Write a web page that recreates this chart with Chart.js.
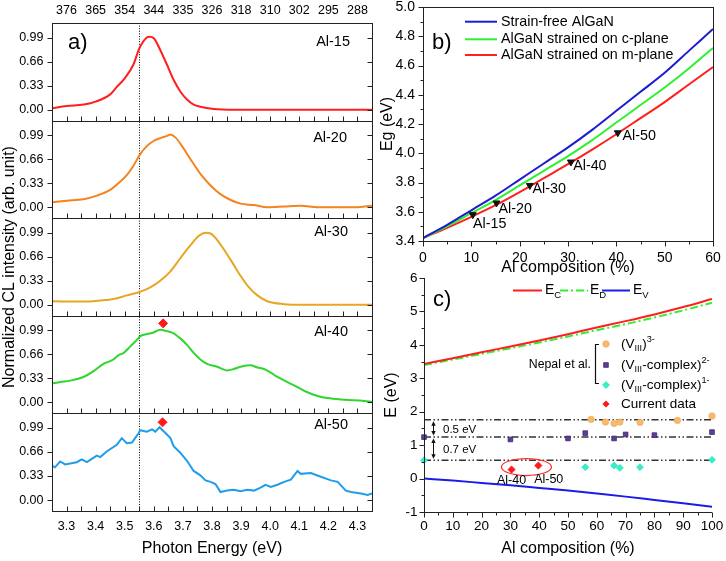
<!DOCTYPE html>
<html><head><meta charset="utf-8">
<script src="https://cdn.jsdelivr.net/npm/chart.js"></script>
<style>
html,body{margin:0;padding:0;background:#fff;width:726px;height:561px;overflow:hidden}
canvas{position:absolute}
#ca{left:0;top:0}
#cb{left:370px;top:0}
#cc{left:370px;top:270px}
</style></head><body>
<canvas id="ca" width="380" height="561"></canvas>
<canvas id="cb" width="356" height="280"></canvas>
<canvas id="cc" width="356" height="291"></canvas>
<script>
const FONT = '"Liberation Sans", Arial, Helvetica, sans-serif';
Chart.defaults.font.family = FONT;
Chart.defaults.color = '#000';

// ---------------- Panel a data ----------------
const energyTicks = [3.3,3.4,3.5,3.6,3.7,3.8,3.9,4.0,4.1,4.2,4.3];
const energyTickLabels = ['3.3','3.4','3.5','3.6','3.7','3.8','3.9','4.0','4.1','4.2','4.3'];
const energyMinorTicks = [3.3,3.35,3.4,3.45,3.5,3.55,3.6,3.65,3.7,3.75,3.8,3.85,3.9,3.95,4.0,4.05,4.1,4.15,4.2,4.25,4.3];
const wavelengthTickLabels = ['376','365','354','344','335','326','318','310','302','295','288'];
const intensityTicks = [0, 0.33, 0.66, 0.99];
const intensityTickLabels = ['0.00','0.33','0.66','0.99'];
const sampleNames = ['Al-15','Al-20','Al-30','Al-40','Al-50'];

const al15E = [3.25,3.30,3.36,3.40,3.45,3.47,3.50,3.53,3.55,3.576,3.585,3.60,3.622,3.645,3.668,3.691,3.714,3.737,3.76,3.806,3.875,4.0,4.2,4.35];
const al15I = [0.02,0.05,0.07,0.11,0.21,0.30,0.43,0.62,0.84,0.99,1.0,0.98,0.82,0.62,0.41,0.25,0.14,0.07,0.04,0.01,0.0,0.0,0.0,0.0];

const al20E = [3.25,3.30,3.358,3.404,3.45,3.484,3.507,3.53,3.553,3.576,3.599,3.622,3.645,3.657,3.674,3.697,3.726,3.76,3.795,3.829,3.864,3.898,3.944,3.99,4.048,4.105,4.163,4.22,4.278,4.35];
const al20I = [0.07,0.09,0.11,0.16,0.24,0.35,0.44,0.57,0.73,0.84,0.91,0.95,0.98,1.0,0.96,0.84,0.66,0.46,0.30,0.18,0.10,0.05,0.03,0.0,0.01,0.02,0.0,0.0,0.0,0.02];

const al30E = [3.25,3.358,3.416,3.461,3.507,3.553,3.588,3.622,3.657,3.691,3.726,3.755,3.778,3.795,3.818,3.841,3.87,3.898,3.927,3.956,3.99,4.048,4.105,4.22,4.35];
const al30I = [0.05,0.045,0.06,0.08,0.13,0.18,0.24,0.33,0.46,0.64,0.82,0.95,0.99,0.98,0.89,0.76,0.58,0.40,0.24,0.13,0.05,0.01,0.0,0.0,0.0];

const al40E = [3.25,3.278,3.312,3.358,3.393,3.427,3.461,3.479,3.496,3.519,3.542,3.553,3.576,3.599,3.622,3.645,3.668,3.691,3.714,3.737,3.76,3.783,3.818,3.852,3.875,3.898,3.933,3.956,3.979,4.002,4.025,4.059,4.094,4.128,4.163,4.197,4.243,4.289,4.324,4.35];
const al40I = [0.26,0.28,0.30,0.35,0.43,0.53,0.59,0.65,0.68,0.77,0.86,0.91,0.94,0.96,1.0,0.98,0.95,0.88,0.79,0.68,0.59,0.53,0.49,0.44,0.46,0.49,0.51,0.48,0.46,0.41,0.35,0.28,0.21,0.14,0.09,0.06,0.04,0.03,0.02,0.01];

const al50E = [3.251,3.26,3.278,3.295,3.335,3.352,3.37,3.404,3.416,3.439,3.473,3.49,3.507,3.525,3.548,3.553,3.576,3.594,3.605,3.62,3.64,3.657,3.668,3.691,3.714,3.737,3.76,3.778,3.795,3.812,3.829,3.852,3.875,3.898,3.921,3.944,3.967,3.984,4.002,4.025,4.048,4.071,4.094,4.105,4.14,4.174,4.209,4.232,4.26,4.278,4.312,4.335,4.35];
const al50I = [0.47,0.45,0.53,0.49,0.52,0.56,0.52,0.61,0.59,0.67,0.76,0.85,0.78,0.79,0.92,0.96,0.94,0.97,0.94,1.0,0.92,0.85,0.74,0.65,0.54,0.40,0.34,0.27,0.25,0.22,0.11,0.13,0.14,0.12,0.14,0.13,0.17,0.21,0.18,0.21,0.25,0.28,0.40,0.36,0.37,0.32,0.27,0.25,0.13,0.11,0.09,0.07,0.09];

const peakMarkE = [3.632, 3.630];   // Al-40, Al-50
const peakMarkI = [1.086, 1.068];
const referenceEnergy = 3.55;

// ---------------- Panel b data ----------------
const compB = [0,5,10,15,20,25,30,35,40,45,50,55,60];
const egStrainFree = [3.42,3.51,3.61,3.71,3.82,3.93,4.04,4.16,4.29,4.42,4.55,4.70,4.85];
const egCPlane = [3.42,3.50,3.59,3.68,3.78,3.88,3.98,4.09,4.21,4.33,4.45,4.58,4.72];
const egMPlane = [3.42,3.49,3.565,3.645,3.735,3.83,3.925,4.025,4.13,4.24,4.35,4.47,4.59];
const sampleComp = [10.3,15.2,22.1,30.6,40.3];
const sampleEg = [3.58,3.66,3.78,3.94,4.14];
const compTicksB = [0,10,20,30,40,50,60];
const compMinorB = [5,15,25,35,45,55];
const egTicks = [3.4,3.6,3.8,4.0,4.2,4.4,4.6,4.8,5.0];
const egTickLabels = ['3.4','3.6','3.8','4.0','4.2','4.4','4.6','4.8','5.0'];
const egMinorTicks = [3.5,3.7,3.9,4.1,4.3,4.5,4.7,4.9];
const legendB = ['Strain-free AlGaN','AlGaN strained on c-plane','AlGaN strained on m-plane'];

// ---------------- Panel c data ----------------
const compC = [0,10,20,30,40,50,60,70,80,90,100];
const eC = [3.43,3.60,3.78,3.95,4.13,4.32,4.52,4.71,4.91,5.13,5.37];
const eD = [3.40,3.56,3.73,3.90,4.07,4.25,4.44,4.62,4.82,5.03,5.26];
const eV = [0.0,-0.06,-0.13,-0.20,-0.28,-0.36,-0.45,-0.54,-0.64,-0.74,-0.84];
const v3Comp = [58,63,66,68,75,88,100];
const v3E = [1.77,1.69,1.65,1.69,1.68,1.74,1.87];
const v2Comp = [0,30,50,56,66,70,80,100];
const v2E = [1.24,1.17,1.20,1.36,1.20,1.32,1.30,1.39];
const v1Comp = [0,56,66,68,75,100];
const v1E = [0.55,0.34,0.39,0.32,0.34,0.56];
const curComp = [30.4,39.7];
const curE = [0.27,0.39];
const curLabels = ['Al-40','Al-50'];
const levelE = [1.76,1.24,0.55];
const levelComp = [0,100];
const gapLabels = ['0.5 eV','0.7 eV'];
const compTicksC = [0,10,20,30,40,50,60,70,80,90,100];
const compMinorC = [5,15,25,35,45,55,65,75,85,95];
const eTicksC = [-1,0,1,2,3,4,5,6];
const eMinorC = [-0.5,0.5,1.5,2.5,3.5,4.5,5.5];

// ---------------- helpers ----------------
const pts = (xs, ys) => xs.map((x, i) => ({x, y: ys[i]}));
const pxv = (s, v) => Math.round(s.getPixelForValue(v)) + 0.5;
function seg(ctx, x1, y1, x2, y2) { ctx.beginPath(); ctx.moveTo(x1, y1); ctx.lineTo(x2, y2); ctx.stroke(); }
function richText(ctx, x, y, parts, base) {
  let cx = x;
  ctx.textAlign = 'left'; ctx.textBaseline = 'middle';
  for (const p of parts) {
    const size = p.s ? base * 0.68 : base;
    ctx.font = size + 'px ' + FONT;
    const dy = p.s === -1 ? base * 0.32 : (p.s === 1 ? -base * 0.36 : 0);
    ctx.fillText(p.t, cx, y + dy);
    cx += ctx.measureText(p.t).width;
  }
}
function marker(ctx, style, x, y, r, fill, stroke) {
  ctx.beginPath();
  if (style === 'circle') ctx.arc(x, y, r, 0, Math.PI * 2);
  else if (style === 'rect') { const s = r * Math.SQRT1_2; ctx.rect(x - s, y - s, 2 * s, 2 * s); }
  else { ctx.moveTo(x, y - r); ctx.lineTo(x + r, y); ctx.lineTo(x, y + r); ctx.lineTo(x - r, y); ctx.closePath(); }
  ctx.fillStyle = fill; ctx.fill();
  if (stroke) { ctx.strokeStyle = stroke; ctx.lineWidth = 0.8; ctx.stroke(); }
}
function fixedTicks(arr) { return s => { s.ticks = arr.map(v => ({value: v})); }; }
function fitW(w) { return s => { s.width = w; s.paddingTop = 0; s.paddingBottom = 0; s.paddingLeft = 0; s.paddingRight = 0; }; }
function fitH(h) { return s => { s.height = h; s.paddingTop = 0; s.paddingBottom = 0; s.paddingLeft = 0; s.paddingRight = 0; }; }
const noGrid = {display: false, drawTicks: false};
const noBorder = {display: false};
const baseOpts = {responsive: false, animation: false, devicePixelRatio: 1, events: [],
  plugins: {legend: {display: false}, tooltip: {enabled: false}}};

// ---------------- Panel a chart ----------------
const aColors = ['#ff1f1f', '#f5831f', '#e7a622', '#2fd62f', '#1f9de9'];
const aE = [al15E, al20E, al30E, al40E, al50E];
const aI = [al15I, al20I, al30I, al40I, al50I];
const yIds = ['y1','y2','y3','y4','y5'];
const aLabelYOffset = [18.7, 16.9, 13.5, 15.9, 11.6];
const aLabelRight = [350, 347, 348, 348, 348];

const aDatasets = sampleNames.map((n, k) => ({
  label: n, data: pts(aE[k], aI[k]), xAxisID: 'x', yAxisID: yIds[k],
  borderColor: aColors[k], backgroundColor: aColors[k], borderWidth: 2, pointRadius: 0,
  cubicInterpolationMode: k === 4 ? 'default' : 'monotone', tension: 0, order: 1
}));
[3, 4].forEach((k, j) => aDatasets.push({
  label: sampleNames[k] + ' peak', data: [{x: peakMarkE[j], y: peakMarkI[j]}], xAxisID: 'x', yAxisID: yIds[k],
  showLine: false, pointStyle: 'rectRot', pointRadius: 4.5, pointBackgroundColor: '#ff1a1a',
  pointBorderColor: '#ff1a1a', order: 0, clip: false
}));

const aScales = {
  x: {type: 'linear', position: 'bottom', min: 3.25, max: 4.35, afterBuildTicks: fixedTicks(energyTicks),
    ticks: {callback: (v, i) => energyTickLabels[i], font: {size: 12.5}, padding: 8, autoSkip: false, maxRotation: 0},
    grid: noGrid, border: noBorder,
    title: {display: true, text: 'Photon Energy (eV)', font: {size: 16}, padding: {top: 0, bottom: 3}},
    afterFit: fitH(50)},
  xTop: {type: 'linear', position: 'top', min: 3.25, max: 4.35, afterBuildTicks: fixedTicks(energyTicks),
    ticks: {callback: (v, i) => wavelengthTickLabels[i], font: {size: 12.5}, padding: 4.5, autoSkip: false, maxRotation: 0},
    grid: noGrid, border: noBorder, afterFit: fitH(23)}
};
yIds.forEach((id, k) => {
  aScales[id] = {type: 'linear', position: 'left', stack: 'a', stackWeight: 1, weight: 5 - k,
    min: -0.15, max: 1.19, afterBuildTicks: fixedTicks(intensityTicks),
    ticks: {callback: (v, i) => intensityTickLabels[i], font: {size: 12.5}, padding: 8.5, autoSkip: false},
    grid: noGrid, border: noBorder,
    title: k === 2 ? {display: true, text: 'Normalized CL intensity (arb. unit)', font: {size: 16}, padding: {top: 0, bottom: 0}} : {display: false},
    afterFit: fitW(52)};
});

const panelAPlugin = {
  id: 'panelA',
  beforeDatasetsDraw(chart) {
    const {ctx, chartArea: ca, scales} = chart;
    ctx.save();
    ctx.strokeStyle = '#000'; ctx.lineWidth = 1; ctx.setLineDash([1, 1.6]);
    const x = pxv(scales.x, referenceEnergy);
    seg(ctx, x, ca.top, x, ca.bottom);
    ctx.restore();
  },
  afterDraw(chart) {
    const {ctx, chartArea: ca, scales} = chart;
    const xs = scales.x;
    ctx.save();
    ctx.strokeStyle = '#222'; ctx.lineWidth = 1;
    const L = Math.round(ca.left) + 0.5, R = Math.round(ca.right) + 0.5;
    yIds.forEach((id, k) => {
      const s = scales[id];
      const T = Math.round(s.top) + 0.5, B = Math.round(s.bottom) + 0.5;
      ctx.strokeRect(L, T, R - L, B - T);
      intensityTicks.forEach(v => { const y = pxv(s, v); seg(ctx, L - 5, y, L, y); seg(ctx, R - 5, y, R, y); });
      energyMinorTicks.forEach(v => { const x = pxv(xs, v); seg(ctx, x, B, x, B - 5); });
      ctx.fillStyle = '#000'; ctx.font = '14.5px ' + FONT; ctx.textAlign = 'right'; ctx.textBaseline = 'middle';
      ctx.fillText(sampleNames[k], aLabelRight[k], s.top + aLabelYOffset[k]);
    });
    ctx.font = '22px ' + FONT; ctx.textAlign = 'left'; ctx.textBaseline = 'middle';
    ctx.fillText('a)', 68, 43);
    ctx.restore();
  }
};

new Chart(document.getElementById('ca'), {
  type: 'line', data: {datasets: aDatasets},
  options: Object.assign({}, baseOpts, {layout: {padding: {left: 0, right: 8, top: 0, bottom: 0}}, scales: aScales}),
  plugins: [panelAPlugin]
});

// ---------------- Panel b chart ----------------
const bColors = ['#1c1cd0', '#2ef02e', '#ff1f1f'];
const bSeries = [egStrainFree, egCPlane, egMPlane];
const bDatasets = bSeries.map((s, k) => ({
  label: legendB[k], data: pts(compB, s), borderColor: bColors[k], borderWidth: 2, pointRadius: 0,
  cubicInterpolationMode: 'monotone', order: 1
}));
bDatasets.push({label: 'samples', data: pts(sampleComp, sampleEg), showLine: false, pointStyle: 'triangle',
  rotation: 180, pointRadius: 4, pointBackgroundColor: '#111', pointBorderColor: '#111', order: 0});
const bLabelDx = [0.2, 2, 2.7, 2.3, 4.7];
const bLabelDy = [9.3, 6.3, 4, 3.7, 3.3];

const panelBPlugin = {
  id: 'panelB',
  afterDraw(chart) {
    const {ctx, chartArea: ca, scales: {x: xs, y: ys}} = chart;
    ctx.save();
    ctx.strokeStyle = '#222'; ctx.lineWidth = 1;
    const L = Math.round(ca.left) + 0.5, R = Math.round(ca.right) + 0.5, T = Math.round(ca.top) + 0.5, B = Math.round(ca.bottom) + 0.5;
    ctx.strokeRect(L, T, R - L, B - T);
    egTicks.forEach(v => { const y = pxv(ys, v); seg(ctx, L - 5, y, L, y); });
    egMinorTicks.forEach(v => { const y = pxv(ys, v); seg(ctx, L - 3, y, L, y); });
    compTicksB.forEach(v => { const x = pxv(xs, v); seg(ctx, x, B, x, B + 5); });
    compMinorB.forEach(v => { const x = pxv(xs, v); seg(ctx, x, B, x, B + 3); });
    // legend
    const rows = [21.7, 39.3, 55];
    ctx.lineWidth = 2;
    rows.forEach((y, k) => {
      ctx.strokeStyle = bColors[k]; seg(ctx, 95, y, 127, y);
      ctx.fillStyle = '#000'; ctx.font = '14.3px ' + FONT; ctx.textAlign = 'left'; ctx.textBaseline = 'middle';
      ctx.fillText(legendB[k], 131, y);
    });
    // sample labels
    ctx.font = '14.3px ' + FONT; ctx.fillStyle = '#000';
    sampleComp.forEach((c, k) => {
      const x = xs.getPixelForValue(c) + bLabelDx[k], y = ys.getPixelForValue(sampleEg[k]) + bLabelDy[k];
      ctx.fillText(sampleNames[k], x, y);
    });
    ctx.font = '22px ' + FONT;
    ctx.fillText('b)', 62, 43);
    ctx.restore();
  }
};

new Chart(document.getElementById('cb'), {
  type: 'line', data: {datasets: bDatasets},
  options: Object.assign({}, baseOpts, {
    layout: {padding: {left: 0, right: 13, top: 7, bottom: 0}},
    scales: {
      x: {type: 'linear', min: 0, max: 60, afterBuildTicks: fixedTicks(compTicksB),
        ticks: {callback: v => String(v), font: {size: 14}, padding: 8.5, autoSkip: false, maxRotation: 0},
        grid: noGrid, border: noBorder,
        title: {display: true, text: 'Al composition (%)', font: {size: 16}, padding: {top: 0, bottom: 3}},
        afterFit: fitH(39)},
      y: {type: 'linear', min: 3.4, max: 5.0, afterBuildTicks: fixedTicks(egTicks),
        ticks: {callback: (v, i) => egTickLabels[i], font: {size: 14}, padding: 8, autoSkip: false},
        grid: noGrid, border: noBorder,
        title: {display: true, text: 'Eg (eV)', font: {size: 16}, padding: {top: 8.4, bottom: 0}},
        afterFit: fitW(53)}
    }
  }),
  plugins: [panelBPlugin]
});

// ---------------- Panel c chart ----------------
const cDatasets = [];
levelE.forEach(e => cDatasets.push({label: 'level', data: pts(levelComp, [e, e]), borderColor: '#333', borderWidth: 1.5,
  borderDash: [7, 2.5, 1.5, 2.5, 1.5, 2.5], pointRadius: 0, order: 3}));
cDatasets.push({label: 'EC', data: pts(compC, eC), borderColor: '#ff1f1f', borderWidth: 2, pointRadius: 0, cubicInterpolationMode: 'monotone', order: 2});
cDatasets.push({label: 'ED', data: pts(compC, eD), borderColor: '#2ef02e', borderWidth: 2, borderDash: [8, 3, 2, 3], pointRadius: 0, cubicInterpolationMode: 'monotone', order: 2});
cDatasets.push({label: 'EV', data: pts(compC, eV), borderColor: '#1c1ce8', borderWidth: 2, pointRadius: 0, cubicInterpolationMode: 'monotone', order: 2});
const cPoint = (label, xs, ys, style, r, fill, stroke) => ({label, data: pts(xs, ys), showLine: false, pointStyle: style,
  pointRadius: r, pointBackgroundColor: fill, pointBorderColor: stroke, pointBorderWidth: 0.8, clip: false, order: 0});
cDatasets.push(cPoint('V3', v3Comp, v3E, 'circle', 3.2, '#f7b96c', '#f2ae5c'));
cDatasets.push(cPoint('V2', v2Comp, v2E, 'rect', 3.3, '#5d3e96', '#3d2a70'));
cDatasets.push(cPoint('V1', v1Comp, v1E, 'rectRot', 3.4, '#33f2c6', '#25e0b6'));
cDatasets.push(cPoint('cur', curComp, curE, 'rectRot', 3.6, '#ff1a1a', '#ff1a1a'));
const cLabelDx = [0, 10.4];
const cLabelDy = [10.6, 14.5];

const panelCPlugin = {
  id: 'panelC',
  afterDraw(chart) {
    const {ctx, chartArea: ca, scales: {x: xs, y: ys}} = chart;
    ctx.save();
    ctx.strokeStyle = '#222'; ctx.lineWidth = 1;
    const L = Math.round(ca.left) + 0.5, B = Math.round(ca.bottom) + 0.5;
    seg(ctx, L, ca.top, L, B); seg(ctx, L, B, ca.right, B);
    eTicksC.forEach(v => { const y = pxv(ys, v); seg(ctx, L - 5, y, L, y); });
    eMinorC.forEach(v => { const y = pxv(ys, v); seg(ctx, L - 3, y, L, y); });
    compTicksC.forEach(v => { const x = pxv(xs, v); seg(ctx, x, B, x, B + 5); });
    compMinorC.forEach(v => { const x = pxv(xs, v); seg(ctx, x, B, x, B + 3); });
    ctx.fillStyle = '#000'; ctx.textBaseline = 'middle'; ctx.textAlign = 'left';
    ctx.font = '22px ' + FONT; ctx.fillText('c)', 63, 30);
    // top legend
    const yl = 20.5;
    ctx.lineWidth = 2;
    ctx.strokeStyle = '#ff1f1f'; seg(ctx, 143, yl, 172, yl);
    ctx.strokeStyle = '#2ef02e'; ctx.setLineDash([8, 3, 2, 3]); seg(ctx, 190, yl, 218, yl); ctx.setLineDash([]);
    ctx.strokeStyle = '#1c1ce8'; seg(ctx, 232, yl, 260, yl);
    ctx.fillStyle = '#000';
    richText(ctx, 175, yl, [{t: 'E'}, {t: 'C', s: -1}], 14);
    richText(ctx, 220, yl, [{t: 'E'}, {t: 'D', s: -1}], 14);
    richText(ctx, 263, yl, [{t: 'E'}, {t: 'V', s: -1}], 14);
    // Nepal legend
    ctx.font = '12.3px ' + FONT; ctx.textAlign = 'right'; ctx.fillText('Nepal et al.', 221, 95);
    ctx.strokeStyle = '#111'; ctx.lineWidth = 1.2;
    ctx.beginPath(); ctx.moveTo(229, 74.5); ctx.lineTo(225.5, 74.5); ctx.lineTo(225.5, 113.5); ctx.lineTo(229, 113.5); ctx.stroke();
    marker(ctx, 'circle', 236, 74, 3.2, '#f7b96c', '#f2ae5c');
    marker(ctx, 'rect', 236, 95, 3.3, '#5d3e96', '#3d2a70');
    marker(ctx, 'rectRot', 236, 115, 3.4, '#33f2c6', '#25e0b6');
    marker(ctx, 'rectRot', 236, 134, 3.6, '#ff1a1a', null);
    ctx.fillStyle = '#000';
    richText(ctx, 251, 74, [{t: '(V'}, {t: 'III', s: -1}, {t: ')'}, {t: '3-', s: 1}], 13.5);
    richText(ctx, 251, 95, [{t: '(V'}, {t: 'III', s: -1}, {t: '-complex)'}, {t: '2-', s: 1}], 13.5);
    richText(ctx, 251, 115, [{t: '(V'}, {t: 'III', s: -1}, {t: '-complex)'}, {t: '1-', s: 1}], 13.5);
    richText(ctx, 251, 134, [{t: 'Current data'}], 13.5);
    // arrows between levels
    const ax = Math.round(ca.left + 9) + 0.5;
    const ly = levelE.map(e => ys.getPixelForValue(e));
    ctx.strokeStyle = '#111'; ctx.fillStyle = '#111'; ctx.lineWidth = 1;
    for (let k = 0; k < 2; k++) {
      const y1 = ly[k] + 1.5, y2 = ly[k + 1] - 1.5;
      seg(ctx, ax, y1 + 2, ax, y2 - 2);
      ctx.beginPath(); ctx.moveTo(ax, y1); ctx.lineTo(ax - 2.2, y1 + 4.5); ctx.lineTo(ax + 2.2, y1 + 4.5); ctx.closePath(); ctx.fill();
      ctx.beginPath(); ctx.moveTo(ax, y2); ctx.lineTo(ax - 2.2, y2 - 4.5); ctx.lineTo(ax + 2.2, y2 - 4.5); ctx.closePath(); ctx.fill();
      ctx.font = '11.5px ' + FONT; ctx.textAlign = 'left'; ctx.textBaseline = 'middle'; ctx.fillStyle = '#000';
      ctx.fillText(gapLabels[k], ca.left + 19, (ly[k] + ly[k + 1]) / 2 + 1);
      ctx.fillStyle = '#111';
    }
    // ellipse around current data
    const ex = (xs.getPixelForValue(curComp[0]) + xs.getPixelForValue(curComp[1])) / 2 + 1.5;
    const ey = (ys.getPixelForValue(curE[0]) + ys.getPixelForValue(curE[1])) / 2 - 0.5;
    ctx.strokeStyle = '#ff2a2a'; ctx.lineWidth = 1.2;
    ctx.beginPath(); ctx.ellipse(ex, ey, 25, 8.5, 0, 0, Math.PI * 2); ctx.stroke();
    ctx.fillStyle = '#000'; ctx.font = '12.5px ' + FONT; ctx.textAlign = 'center'; ctx.textBaseline = 'middle';
    curComp.forEach((c, k) => ctx.fillText(curLabels[k], xs.getPixelForValue(c) + cLabelDx[k], ys.getPixelForValue(curE[k]) + cLabelDy[k]));
    ctx.restore();
  }
};

new Chart(document.getElementById('cc'), {
  type: 'line', data: {datasets: cDatasets},
  options: Object.assign({}, baseOpts, {
    layout: {padding: {left: 0, right: 14, top: 8, bottom: 0}},
    scales: {
      x: {type: 'linear', min: 0, max: 100, afterBuildTicks: fixedTicks(compTicksC),
        ticks: {callback: v => String(v), font: {size: 13.5}, padding: 6.5, autoSkip: false, maxRotation: 0},
        grid: noGrid, border: noBorder,
        title: {display: true, text: 'Al composition (%)', font: {size: 16}, padding: {top: 0, bottom: 3}},
        afterFit: fitH(49)},
      y: {type: 'linear', min: -1, max: 6, afterBuildTicks: fixedTicks(eTicksC),
        ticks: {callback: v => String(v), font: {size: 13.5}, padding: 6.5, autoSkip: false},
        grid: noGrid, border: noBorder,
        title: {display: true, text: 'E (eV)', font: {size: 16}, padding: {top: 12, bottom: 0}},
        afterFit: fitW(54)}
    }
  }),
  plugins: [panelCPlugin]
});
</script>
</body></html>
